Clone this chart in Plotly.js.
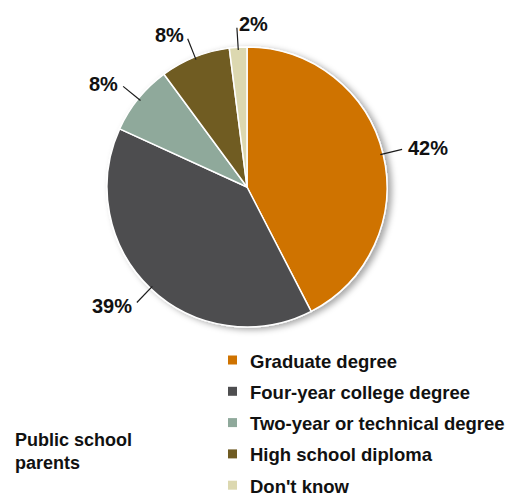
<!DOCTYPE html>
<html>
<head>
<meta charset="utf-8">
<script src="https://cdn.plot.ly/plotly-3.0.1.min.js"></script>
<style>
html,body{margin:0;padding:0;background:#fff;}
#chart{width:510px;height:499px;}
</style>
</head>
<body>
<div id="chart"></div>
<script>
const categories = ["Graduate degree", "Four-year college degree", "Two-year or technical degree", "High school diploma", "Don't know"];
const values = [42, 39, 8, 8, 2];
const valueLabels = ["42%", "39%", "8%", "8%", "2%"];
const colors = ["#CF7300", "#4E4E50", "#8FA99B", "#6F5B22", "#DCD8B0"];
const groupLabel = "Public school<br>parents";

const W = 510, H = 499;
const cx = 247, cy = 187, R = 140;
const FONT = "Liberation Sans, Arial, sans-serif";

const px = x => x / W;
const py = y => 1 - y / H;

const total = values.reduce((a, b) => a + b, 0);
const shapes = [];
const annotations = [];
let cum = 0;
values.forEach((v, i) => {
  const mid = (cum + v / 2) / total * 2 * Math.PI;
  cum += v;
  const s = Math.sin(mid), c = Math.cos(mid);
  const x0 = cx + R * 0.98 * s, y0 = cy - R * 0.98 * c;
  const x1 = cx + R * 1.14 * s, y1 = cy - R * 1.14 * c;
  shapes.push({type: "line", xref: "paper", yref: "paper", layer: "above",
    x0: px(x0), y0: py(y0), x1: px(x1), y1: py(y1),
    line: {color: "#1a1a1a", width: 1.2}});
  const tx = cx + R * 1.17 * s, ty = cy - R * 1.17 * c;
  annotations.push({xref: "paper", yref: "paper", x: px(tx), y: py(ty),
    text: valueLabels[i], showarrow: false,
    xanchor: s > -0.1 ? "left" : "right", yanchor: "middle",
    font: {family: FONT, size: 20, color: "#111", weight: "bold"}});
});

// custom legend
const legX = 228, legTextX = 249, legY0 = 361, legStep = 31.3, sq = 9;
categories.forEach((cat, i) => {
  const yc = legY0 + i * legStep;
  shapes.push({type: "rect", xref: "paper", yref: "paper",
    x0: px(legX), x1: px(legX + sq), y0: py(yc - sq / 2 - 1), y1: py(yc + sq / 2 - 1),
    fillcolor: colors[i], line: {width: 0}});
  annotations.push({xref: "paper", yref: "paper", x: px(legTextX), y: py(yc),
    text: cat, showarrow: false, xanchor: "left", yanchor: "middle", borderpad: 0,
    font: {family: FONT, size: 18.5, color: "#111", weight: "bold"}});
});

annotations.push({xref: "paper", yref: "paper", x: px(13), y: py(451),
  text: groupLabel, showarrow: false, xanchor: "left", yanchor: "middle", align: "left",
  font: {family: FONT, size: 18, color: "#111", weight: "bold"}});

const trace = {
  type: "pie",
  labels: categories,
  values: values,
  sort: false,
  direction: "clockwise",
  rotation: 0,
  textinfo: "none",
  hoverinfo: "none",
  marker: {colors: colors, line: {color: "#ffffff", width: 1.5}},
  domain: {x: [px(cx - R), px(cx + R)], y: [py(cy + R), py(cy - R)]},
  showlegend: false
};

Plotly.newPlot("chart", [trace], {
  width: W, height: H,
  margin: {l: 0, r: 0, t: 0, b: 0},
  paper_bgcolor: "#fff",
  showlegend: false,
  shapes: shapes,
  annotations: annotations
}, {staticPlot: true}).then(gd => {
  const svg = gd.querySelector("svg.main-svg");
  const ns = "http://www.w3.org/2000/svg";
  let defs = svg.querySelector("defs");
  if (!defs) { defs = document.createElementNS(ns, "defs"); svg.insertBefore(defs, svg.firstChild); }
  const f = document.createElementNS(ns, "filter");
  f.setAttribute("id", "pieShadow");
  f.setAttribute("x", "-20%"); f.setAttribute("y", "-20%");
  f.setAttribute("width", "140%"); f.setAttribute("height", "140%");
  const ds = document.createElementNS(ns, "feDropShadow");
  ds.setAttribute("dx", "4"); ds.setAttribute("dy", "2");
  ds.setAttribute("stdDeviation", "3");
  ds.setAttribute("flood-color", "#000"); ds.setAttribute("flood-opacity", "0.35");
  f.appendChild(ds);
  defs.appendChild(f);
  const pl = svg.querySelector(".pielayer");
  if (pl) pl.setAttribute("filter", "url(#pieShadow)");
});
</script>
</body>
</html>
